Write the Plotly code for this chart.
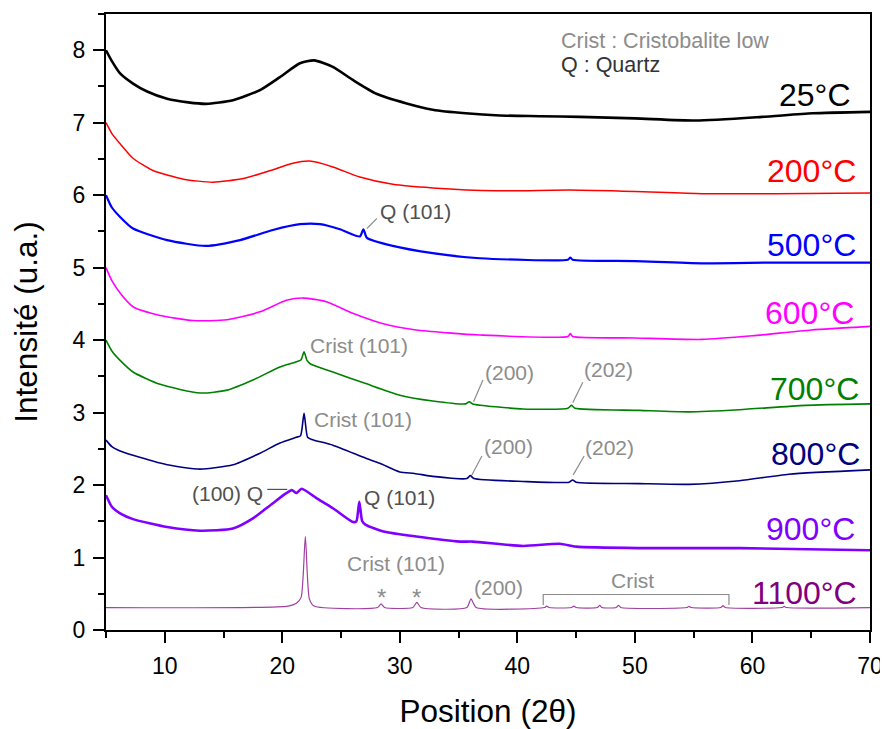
import plotly.graph_objects as go

# ---------------- data ----------------
x_25 = [5, 5.5, 6.2, 7.3, 8.5, 10.2, 12, 13.5, 15.8, 18.1, 19.8, 21.5, 22.7, 24.3, 26, 28, 30.5, 32.8, 35.6, 38.5, 42, 45.3, 50, 55.2, 60.8, 65.1, 70]
y_25 = [8.0, 7.85, 7.68, 7.54, 7.43, 7.33, 7.28, 7.26, 7.31, 7.45, 7.63, 7.82, 7.86, 7.77, 7.59, 7.40, 7.27, 7.18, 7.13, 7.10, 7.09, 7.08, 7.06, 7.03, 7.08, 7.13, 7.15]

x_200 = [5, 5.5, 6.2, 7.3, 9, 11.6, 14.1, 16.7, 19.2, 20.9, 22.3, 24.3, 26.6, 29.4, 32.8, 38.2, 44.5, 50, 55.7, 62, 70]
y_200 = [7.0, 6.85, 6.71, 6.51, 6.34, 6.22, 6.18, 6.23, 6.35, 6.44, 6.47, 6.39, 6.25, 6.15, 6.10, 6.06, 6.07, 6.05, 6.02, 6.02, 6.03]

x_500 = [5, 5.5, 6.2, 7.3, 10.2, 13.5, 16.4, 19.2, 21.5, 23.2, 24.9, 26.6, 26.9, 27.2, 29.4, 32.8, 36.8, 44.3, 44.5, 44.7, 50, 55.7, 62, 70]
y_500 = [6.0, 5.83, 5.70, 5.54, 5.38, 5.30, 5.38, 5.52, 5.60, 5.60, 5.53, 5.43, 5.53, 5.41, 5.30, 5.20, 5.13, 5.11, 5.14, 5.11, 5.09, 5.06, 5.07, 5.07]

x_600 = [5, 5.5, 6.2, 7.3, 9.6, 12.4, 15.3, 18.1, 20.35, 21.8, 23.75, 26, 28.5, 31.4, 34.1, 36.8, 44.3, 44.5, 44.7, 50, 55.7, 60, 65, 70]
y_600 = [5.0, 4.82, 4.65, 4.46, 4.34, 4.27, 4.28, 4.39, 4.55, 4.58, 4.53, 4.37, 4.23, 4.14, 4.10, 4.07, 4.05, 4.09, 4.05, 4.03, 4.01, 4.06, 4.14, 4.19]

x_700 = [5, 5.5, 6.2, 7.3, 9.6, 13, 15.3, 17.5, 19.8, 21.2, 21.6, 21.85, 22.1, 22.4, 24.3, 27.1, 30, 32.8, 35.6, 35.9, 36.2, 40.5, 44.3, 44.6, 44.9, 50.4, 54.6, 58.9, 64.5, 70]
y_700 = [4.0, 3.85, 3.72, 3.56, 3.39, 3.27, 3.31, 3.45, 3.63, 3.70, 3.73, 3.84, 3.72, 3.67, 3.56, 3.40, 3.24, 3.16, 3.12, 3.15, 3.12, 3.05, 3.06, 3.10, 3.06, 3.03, 3.01, 3.04, 3.10, 3.12]

x_800 = [5, 5.5, 6.2, 7.3, 10.2, 13, 15.8, 18.1, 19.8, 21.2, 21.55, 21.85, 22.15, 22.5, 24.3, 27.1, 28.3, 30, 31.25, 32.8, 35.7, 36.0, 36.3, 40.5, 44.4, 44.7, 45.0, 50.4, 54.6, 58.9, 63.1, 70]
y_800 = [2.62, 2.53, 2.47, 2.41, 2.28, 2.22, 2.28, 2.44, 2.58, 2.66, 2.68, 2.99, 2.66, 2.63, 2.55, 2.37, 2.30, 2.18, 2.16, 2.12, 2.09, 2.13, 2.09, 2.05, 2.04, 2.07, 2.04, 2.02, 2.01, 2.06, 2.15, 2.21]

x_900 = [5, 5.5, 6.2, 7.3, 10.2, 13, 15.8, 17.5, 19.2, 20.8, 21.2, 21.65, 22.9, 24.3, 26.0, 26.3, 26.55, 26.8, 27.1, 28.6, 31.4, 35.1, 36.2, 40.5, 43.6, 45, 50.4, 58.9, 70]
y_900 = [1.86, 1.70, 1.61, 1.53, 1.42, 1.37, 1.40, 1.54, 1.75, 1.93, 1.89, 1.95, 1.82, 1.68, 1.49, 1.50, 1.77, 1.50, 1.45, 1.36, 1.29, 1.22, 1.22, 1.16, 1.19, 1.15, 1.13, 1.13, 1.10]

x_1100 = [5, 20.5, 21.2, 21.6, 21.96, 22.3, 22.7, 28.1, 28.4, 28.7, 31.1, 31.45, 31.8, 35.7, 36.05, 36.5, 42.3, 42.5, 42.7, 44.6, 44.8, 45.0, 46.8, 47.0, 47.2, 48.4, 48.6, 48.8, 54.4, 54.6, 54.8, 57.3, 57.5, 57.7, 62.5, 62.7, 62.9, 70]
y_1100 = [0.31, 0.33, 0.37, 0.45, 1.29, 0.43, 0.33, 0.31, 0.36, 0.31, 0.31, 0.38, 0.31, 0.31, 0.43, 0.31, 0.31, 0.33, 0.31, 0.31, 0.33, 0.31, 0.31, 0.34, 0.31, 0.31, 0.34, 0.31, 0.31, 0.325, 0.31, 0.31, 0.335, 0.31, 0.31, 0.325, 0.31, 0.31]

series_names = ["25°C", "200°C", "500°C", "600°C", "700°C", "800°C", "900°C", "1100°C"]
series_x = [x_25, x_200, x_500, x_600, x_700, x_800, x_900, x_1100]
series_y = [y_25, y_200, y_500, y_600, y_700, y_800, y_900, y_1100]
line_colors = ["#000000", "#FF0000", "#0000FF", "#FF00FF", "#008000", "#000080", "#8000FF", "#A040A0"]
text_colors = ["#000000", "#FF0000", "#0000FF", "#FF00FF", "#008000", "#000080", "#8000FF", "#800080"]
line_widths = [2.6, 1.5, 2.2, 1.6, 1.6, 1.6, 2.6, 1.2]

# temperature label anchor (right edge x, centre y)
label_x = [68.55, 69.0, 69.0, 68.8, 69.2, 69.3, 68.9, 69.1]
label_y = [7.38, 6.34, 5.31, 4.38, 3.33, 2.43, 1.39, 0.51]

# peak annotations: (text, x_left, y_centre, colour)
GRAY = "#8c8c8c"
DARK = "#505050"
peak_texts = [
    ("Q (101)", 28.15, 5.77, DARK),
    ("Crist (101)", 22.2, 3.93, GRAY),
    ("(200)", 37.05, 3.56, GRAY),
    ("(202)", 45.5, 3.59, GRAY),
    ("Crist (101)", 22.55, 2.91, GRAY),
    ("(200)", 37.0, 2.53, GRAY),
    ("(202)", 45.6, 2.52, GRAY),
    ("Q (101)", 26.8, 1.83, DARK),
    ("Crist (101)", 25.35, 0.92, GRAY),
    ("(200)", 36.15, 0.59, GRAY),
]
# leader lines (x0, y0, x1, y1)
leaders = [
    (27.2, 5.54, 28.05, 5.68),
    (36.27, 3.15, 37.07, 3.45),
    (44.72, 3.14, 45.57, 3.42),
    (36.13, 2.14, 36.98, 2.40),
    (44.75, 2.14, 45.68, 2.40),
]

fig = go.Figure()
for name, xs, ys, c, w in zip(series_names, series_x, series_y, line_colors, line_widths):
    fig.add_trace(go.Scatter(x=xs, y=ys, mode="lines", name=name,
                             line=dict(color=c, width=w, shape="spline", smoothing=0.6),
                             showlegend=False))

FONT = "Liberation Sans, Arial, sans-serif"
annotations = []
for name, lx, ly, c in zip(series_names, label_x, label_y, text_colors):
    annotations.append(dict(x=lx, y=ly, text=name, showarrow=False, xanchor="right", yanchor="middle",
                            font=dict(size=32, color=c, family=FONT)))
for t, tx, ty, c in peak_texts:
    annotations.append(dict(x=tx, y=ty, text=t, showarrow=False, xanchor="left", yanchor="middle",
                            font=dict(size=21, color=c, family=FONT)))
annotations.append(dict(x=18.5, y=1.89, text="(100) Q", showarrow=False, xanchor="right", yanchor="middle",
                        font=dict(size=21, color=DARK, family=FONT)))
for sx in [28.48, 31.45]:
    annotations.append(dict(x=sx, y=0.45, text="*", showarrow=False, xanchor="center", yanchor="middle",
                            font=dict(size=24, color=GRAY, family=FONT)))
annotations.append(dict(x=49.8, y=0.69, text="Crist", showarrow=False, xanchor="center", yanchor="middle",
                        font=dict(size=21, color=GRAY, family=FONT)))
annotations.append(dict(x=43.6, y=8.13, text="Crist : Cristobalite low", showarrow=False, xanchor="left",
                        yanchor="middle", font=dict(size=21.5, color=GRAY, family=FONT), borderpad=0))
annotations.append(dict(x=43.6, y=7.80, text="Q : Quartz", showarrow=False, xanchor="left",
                        yanchor="middle", font=dict(size=21.5, color="#333333", family=FONT), borderpad=0))

shapes = []
for x0, y0, x1, y1 in leaders:
    shapes.append(dict(type="line", xref="x", yref="y", x0=x0, y0=y0, x1=x1, y1=y1,
                       line=dict(color=GRAY, width=1.2)))
shapes.append(dict(type="line", xref="x", yref="y", x0=18.72, y0=1.94, x1=20.42, y1=1.94,
                   line=dict(color=DARK, width=1.2)))
shapes.append(dict(type="path", xref="x", yref="y",
                   path="M 42.2,0.345 L 42.2,0.49 L 58.0,0.49 L 58.0,0.345",
                   line=dict(color=GRAY, width=1.2)))

# the page body has an 8px margin, so the figure is sized to fit the 888x729 window
fig.update_layout(
    width=880, height=721,
    margin=dict(l=98, r=18, t=6, b=99),
    paper_bgcolor="white", plot_bgcolor="white",
    font=dict(family=FONT, color="black"),
    annotations=annotations, shapes=shapes,
    xaxis=dict(range=[5, 70], tick0=0, dtick=10, showgrid=False, zeroline=False, automargin=False,
               showline=True, linecolor="black", linewidth=2, mirror=True,
               ticks="outside", ticklen=11, tickwidth=2, tickcolor="black", ticklabelstandoff=3,
               minor=dict(dtick=5, tick0=0, ticks="outside", ticklen=6, tickwidth=2, tickcolor="black"),
               tickfont=dict(size=23, family=FONT, color="black"),
               title=dict(text="Position (2θ)", font=dict(size=31.5, family=FONT, color="black"), standoff=24)),
    yaxis=dict(range=[0, 8.5], tick0=0, dtick=1, showgrid=False, zeroline=False, automargin=False,
               showline=True, linecolor="black", linewidth=2, mirror=True,
               ticks="outside", ticklen=11, tickwidth=2, tickcolor="black", ticklabelstandoff=3,
               minor=dict(dtick=0.5, tick0=0, ticks="outside", ticklen=6, tickwidth=2, tickcolor="black"),
               tickfont=dict(size=23, family=FONT, color="black"),
               title=dict(text="Intensité (u.a.)", font=dict(size=31.5, family=FONT, color="black"), standoff=29)),
)

fig.write_html("out.html")
